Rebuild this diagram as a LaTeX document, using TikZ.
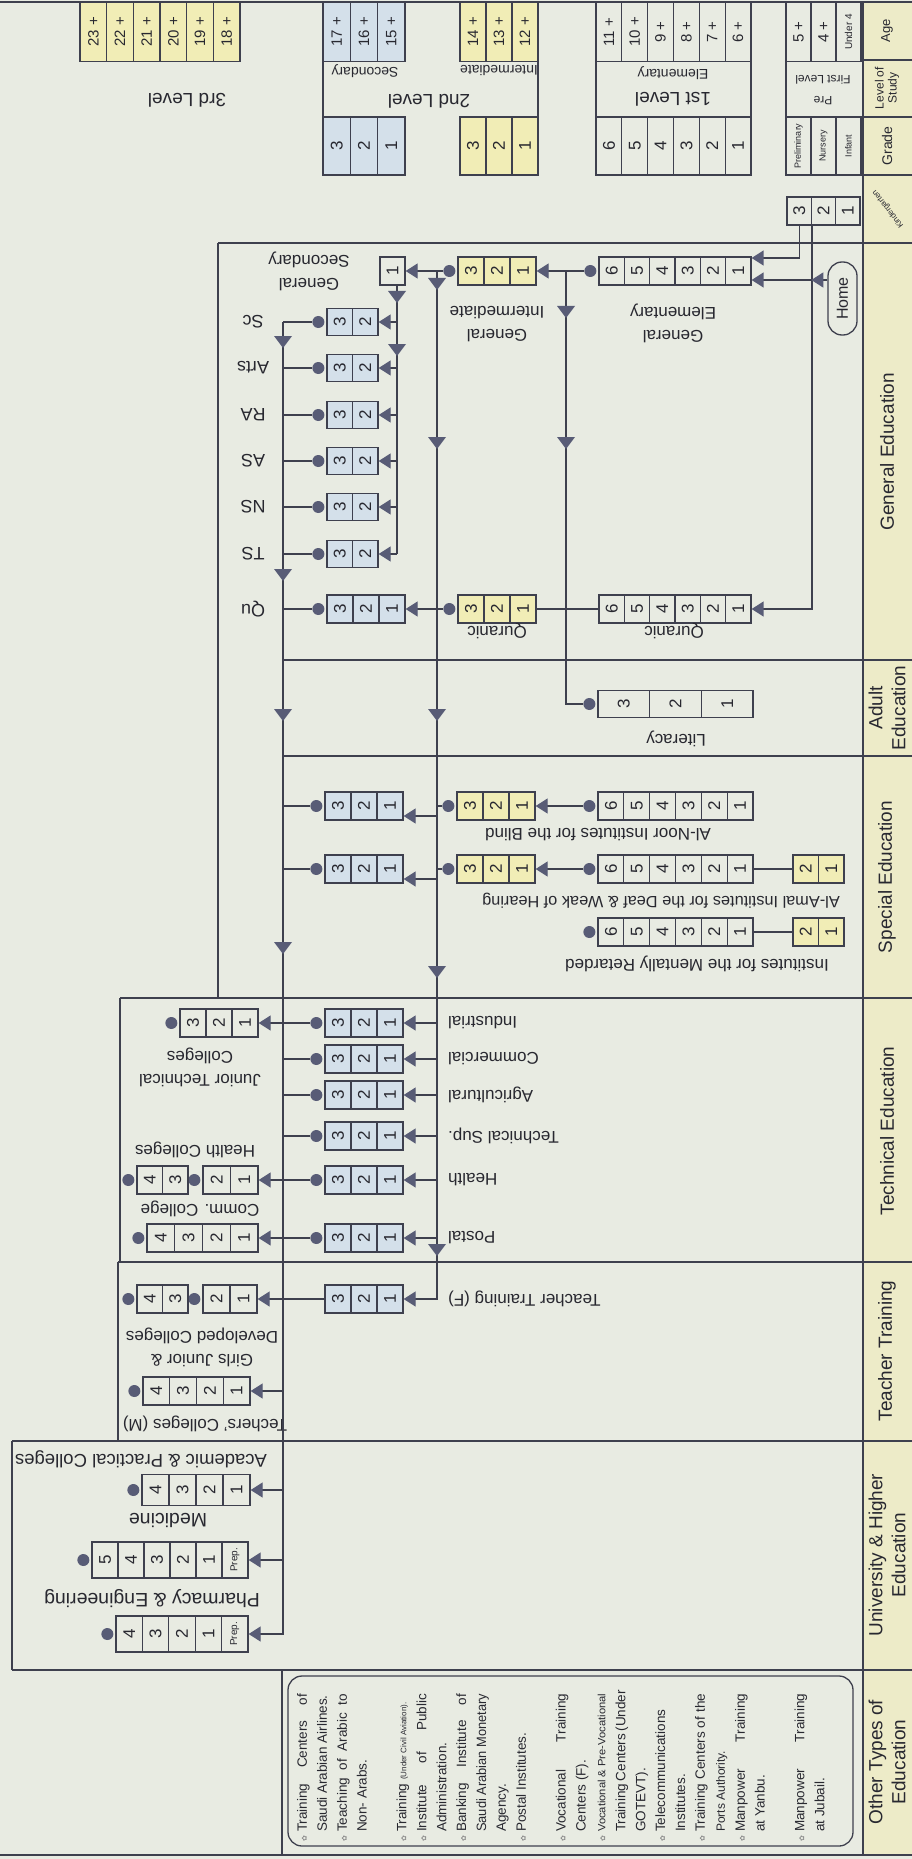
\documentclass[tikz,border=0pt]{standalone}
\usepackage{fontspec}
\setmainfont{Liberation Sans}
\newfontfamily\dejavu{DejaVu Sans}
\usepackage{graphicx}
\usetikzlibrary{arrows.meta,calc}
\definecolor{paper}{RGB}{232,235,226}
\definecolor{lc}{RGB}{62,64,78}
\definecolor{arrc}{RGB}{88,92,118}
\definecolor{ylw}{RGB}{241,237,182}
\definecolor{blu}{RGB}{212,224,234}
\definecolor{hdr}{RGB}{237,235,200}
\definecolor{txt}{RGB}{40,40,48}
\definecolor{bulc}{RGB}{140,140,140}
\newcommand{\fs}[2]{\fontsize{#1}{#2}\selectfont}
\newcommand{\bul}{\llap{\textcolor{bulc}{\dejavu\fs{7}{7}✿}\hspace{4pt}}}
\newcommand{\jl}[1]{\makebox[138pt][s]{#1}}
\newcommand{\sq}[1]{\resizebox{138pt}{\height}{#1}}
\tikzset{
 ln/.style={draw=lc, line width=1.3pt},
 reg/.style={draw=lc, line width=1.6pt},
 arr/.style={-{Triangle[length=12pt,width=15pt,color=arrc]}},
 cell/.style={draw=lc, line width=1.3pt, inner sep=0pt, text=txt, font=\fs{17}{17}},
 dot/.style={circle, fill=arrc, inner sep=0pt, minimum size=12pt},
 lab/.style={rotate=180, text=txt, font=\fs{17}{23}, align=center, inner sep=0pt},
 hlab/.style={rotate=90, text=txt, font=\fs{19}{23}, align=center, inner sep=0pt},
 tri/.pic={\fill[arrc] (-9,-6) -- (9,-6) -- (0,6) -- cycle;},
}
\newcommand{\crow}[7]{%
 \foreach \lbl [count=\i] in {#7}{%
  \node[cell,#6,minimum width=#4pt,minimum height=#5pt] (#1-\i) at ({#2+(\i-0.5)*#4},#3) {\rotatebox{90}{\lbl}};
 }}
\begin{document}
\begin{tikzpicture}[x=1pt,y=-1pt]
\fill[paper] (0,0) rectangle (912,1859);
\useasboundingbox (0,0) rectangle (912,1859);
% header column
\fill[hdr] (863,3) rectangle (912,1855);
\draw[reg] (0,2) -- (912,2);
\draw[reg] (0,1855) -- (912,1855);
\draw[ln,line width=1.8pt] (863,2) -- (863,1855);
\foreach \yy in {60,117,175} {\draw[ln] (863,\yy) -- (912,\yy);}
% regions
\draw[reg] (218,243) -- (912,243);
\draw[reg] (218,243) -- (218,998);
\draw[reg] (283,660) -- (912,660);
\draw[reg] (283,756) -- (912,756);
\draw[reg] (120,998) -- (912,998);
\draw[reg] (120,998) -- (120,1262);
\draw[reg] (118,1262) -- (912,1262);
\draw[reg] (118,1262) -- (118,1441);
\draw[reg] (12,1441) -- (912,1441);
\draw[reg] (12,1441) -- (12,1670);
\draw[reg] (12,1670) -- (912,1670);
\draw[reg] (282,1670) -- (282,1855);
% header labels
\node[hlab,font=\fs{13}{14}] (hAge) at (887,31) {Age};
\node[hlab,font=\fs{12}{13}] (hLev) at (887,88) {Level of\\Study};
\node[hlab,font=\fs{14}{15}] (hGrade) at (887,146) {Grade};
\node[rotate=128,font=\fs{8}{9},text=txt,inner sep=0pt] (hKg) at (888,209) {Kindergarten};
\node[hlab] (hGen) at (887,452) {General Education};
\node[hlab] (hAdult) at (887,708) {Adult\\Education};
\node[hlab] (hSpec) at (887,877) {Special Education};
\node[hlab] (hTech) at (887,1131) {Technical Education};
\node[hlab] (hTT) at (887,1351) {Teacher Training};
\node[hlab] (hUni) at (887,1555) {University \& Higher\\Education};
\node[hlab] (hOther) at (887,1762) {Other Types of\\Education};
% level table
\crow{a3}{80}{32}{26.67}{59}{fill=ylw,font=\fs{15}{15}}{23 +,22 +,21 +,20 +,19 +,18 +}
\node[lab,font=\fs{19}{22}] (l3) at (187,100) {3rd Level};
\draw[ln] (323,3) -- (323,175); \draw[ln] (538,3) -- (538,175);
\crow{a2s}{323}{32}{27.33}{59}{fill=blu,font=\fs{15}{15}}{17 +,16 +,15 +}
\crow{g2s}{323}{146}{27.33}{58}{fill=blu}{3,2,1}
\crow{a2i}{460}{32}{26}{59}{fill=ylw,font=\fs{15}{15}}{14 +,13 +,12 +}
\crow{g2i}{460}{146}{26}{58}{fill=ylw}{3,2,1}
\node[lab,font=\fs{14}{16}] (lsec) at (365,71) {Secondary};
\node[lab,font=\fs{14}{16}] (lint) at (499,71) {Intermediate};
\node[lab,font=\fs{19}{22}] (l2) at (429,101) {2nd Level};
\draw[ln] (596,3) -- (596,175); \draw[ln] (751,3) -- (751,175);
\crow{a1}{596}{32}{25.83}{59}{font=\fs{15}{15}}{11 +,10 +,9 +,8 +,7 +,6 +}
\crow{g1}{596}{146}{25.83}{58}{}{6,5,4,3,2,1}
\node[lab,font=\fs{14}{16}] (lelem) at (673,73) {Elementary};
\node[lab,font=\fs{19}{22}] (l1) at (673,99) {1st Level};
\draw[ln] (786,3) -- (786,175);
\crow{a0}{786}{32}{25}{59}{font=\fs{15}{15}}{5 +,4 +,{\fs{10}{10}Under 4}}
\crow{g0}{786}{146}{25}{58}{font=\fs{9}{9}}{Preliminary,Nursery,Infant}
\node[lab,font=\fs{12}{21}] (lpre) at (823,90) {Pre\\First Level};
% kindergarten, home
\crow{kg}{787}{211}{24.33}{28}{}{3,2,1}
\node[draw=lc,line width=1.3pt,rounded corners=14pt,rotate=90,minimum width=73pt,minimum height=29pt,inner sep=0pt,font=\fs{16}{16},text=txt] (home) at (842.5,298.5) {Home};
% general education
\crow{ge}{599}{271}{25.33}{28}{}{6,5,4,3,2,1}
\node[dot] (ged) at ($(ge-1.west)+(-8,0)$) {};
\crow{gi}{458}{271}{26}{28}{fill=ylw}{3,2,1}
\node[dot] (gid) at ($(gi-1.west)+(-8,0)$) {};
\node[cell,minimum width=25pt,minimum height=28pt] (gs) at (392.5,271) {\rotatebox{90}{1}};
\node[lab] (lge) at (673,323) {General\\Elementary};
\node[lab] (lgi) at (497,324) {General\\Intermediate};
\node[lab] (lgs) at (309,271) {General\\Secondary};
\foreach \nm/\yy/\tx in {sSc/322/Sc,sAr/368/Arts,sRA/415/RA,sAS/461/AS,sNS/507/NS,sTS/554/TS}{
 \crow{\nm}{327}{\yy}{25.5}{27}{fill=blu}{3,2}
 \node[dot] (\nm d) at ($(\nm-1.west)+(-8,0)$) {};
 \node[lab,font=\fs{18}{20}] (\nm l) at (253,\yy) {\tx};
}
\crow{qs}{327}{609}{26}{28}{fill=blu}{3,2,1}
\node[dot] (qsd) at ($(qs-1.west)+(-8,0)$) {};
\node[lab,font=\fs{18}{20}] (qsl) at (253,609) {Qu};
\crow{qi}{458}{609}{26}{28}{fill=ylw}{3,2,1}
\node[dot] (qid) at ($(qi-1.west)+(-8,0)$) {};
\crow{qe}{599}{609}{25.33}{28}{}{6,5,4,3,2,1}
\node[lab] (lqi) at (497,631) {Quranic};
\node[lab] (lqe) at (674,631) {Quranic};
% adult
\crow{lit}{598}{704}{51.67}{27}{}{3,2,1}
\node[dot] (litd) at ($(lit-1.west)+(-8,0)$) {};
\node[lab] (llit) at (676,739) {Literacy};
% special
\crow{ne}{598}{806}{25.83}{28}{}{6,5,4,3,2,1}
\node[dot] (ned) at ($(ne-1.west)+(-8,0)$) {};
\crow{ni}{457}{806}{26}{28}{fill=ylw}{3,2,1}
\node[dot] (nid) at ($(ni-1.west)+(-8,0)$) {};
\crow{ns}{325}{806}{26}{28}{fill=blu}{3,2,1}
\node[dot] (nsd) at ($(ns-1.west)+(-8,0)$) {};
\node[lab] (lnoor) at (598,835) {Al-Noor Institutes for the Blind};
\crow{ame}{598}{869}{25.83}{28}{}{6,5,4,3,2,1}
\node[dot] (amed) at ($(ame-1.west)+(-8,0)$) {};
\crow{amp}{793}{869}{25.5}{28}{fill=ylw}{2,1}
\crow{ami}{457}{869}{26}{28}{fill=ylw}{3,2,1}
\node[dot] (amid) at ($(ami-1.west)+(-8,0)$) {};
\crow{ams}{325}{869}{26}{28}{fill=blu}{3,2,1}
\node[dot] (amsd) at ($(ams-1.west)+(-8,0)$) {};
\node[lab,font=\fs{16.3}{20}] (lamal) at (661,901) {Al-Amal Institutes for the Deaf \& Weak of Hearing};
\crow{me}{598}{932}{25.83}{28}{}{6,5,4,3,2,1}
\node[dot] (med) at ($(me-1.west)+(-8,0)$) {};
\crow{mp}{793}{932}{25.5}{28}{fill=ylw}{2,1}
\node[lab] (lmr) at (697,964) {Institutes for the Mentally Retarded};
% technical
\foreach \nm/\yy/\tx in {ind/1023/Industrial,com/1059/Commercial,agr/1095/Agricultural,tsu/1136/Technical Sup.,hea/1180/Health,pos/1238/Postal}{
 \crow{\nm}{325}{\yy}{26}{28}{fill=blu}{3,2,1}
 \node[dot] (\nm d) at ($(\nm-1.west)+(-8,0)$) {};
 \node[lab,anchor=east] (\nm l) at (448,\yy) {\tx};
}
\crow{jtc}{180}{1023}{26}{28}{}{3,2,1}
\node[dot] (jtcd) at ($(jtc-1.west)+(-8,0)$) {};
\crow{hc}{203}{1180}{27.5}{28}{}{2,1}
\node[dot] (hcd) at ($(hc-1.west)+(-8,0)$) {};
\crow{hcb}{137}{1180}{25.5}{28}{}{4,3}
\node[dot] (hcbd) at ($(hcb-1.west)+(-8,0)$) {};
\crow{cc}{147}{1238}{27.75}{28}{}{4,3,2,1}
\node[dot] (ccd) at ($(cc-1.west)+(-8,0)$) {};
\node[lab] (ljtc) at (200,1067) {Junior Technical\\Colleges};
\node[lab] (lhc) at (195,1150) {Health Colleges};
\node[lab] (lcc) at (200,1209) {Comm. College};
% teacher training
\crow{ttf}{325}{1299}{26}{28}{fill=blu}{3,2,1}
\node[lab,anchor=east] (lttf) at (448,1299) {Teacher Training (F)};
\crow{gj}{203}{1299}{27}{28}{}{2,1}
\node[dot] (gjd) at ($(gj-1.west)+(-8,0)$) {};
\crow{gk}{137}{1299}{25.5}{28}{}{4,3}
\node[dot] (gkd) at ($(gk-1.west)+(-8,0)$) {};
\node[lab] (lgj) at (202,1347) {Girls Junior \&\\Developed Colleges};
\crow{tm}{143}{1391}{26.75}{28}{}{4,3,2,1}
\node[dot] (tmd) at ($(tm-1.west)+(-8,0)$) {};
\node[lab] (ltm) at (205,1424) {Techers' Colleges (M)};
% university
\crow{md}{142}{1490}{27}{31}{}{4,3,2,1}
\node[dot] (mdd) at ($(md-1.west)+(-8,0)$) {};
\crow{pb}{92}{1560}{26}{36}{}{5,4,3,2,1,{\fs{10}{10}Prep.}}
\node[dot] (pbd) at ($(pb-1.west)+(-8,0)$) {};
\crow{pa}{116}{1634}{26.4}{36}{}{4,3,2,1,{\fs{10}{10}Prep.}}
\node[dot] (pad) at ($(pa-1.west)+(-8,0)$) {};
\node[lab,font=\fs{18.5}{22}] (lacad) at (141,1459) {Academic \& Practical Colleges};
\node[lab,font=\fs{19.5}{22}] (lmed) at (168,1520) {Medicine};
\node[lab,font=\fs{19.5}{22}] (lpha) at (152,1599) {Pharmacy \& Engineering};
% other types
\draw[ln,rounded corners=14pt] (288,1676) rectangle (853,1846);
\node[rotate=90,anchor=north west,inner sep=0pt,align=left,font=\fs{13.5}{19.9},text=txt] (oth) at (297,1832) {%
\bul\jl{Training Centers of}\\
Saudi Arabian Airlines.\\
\bul\jl{Teaching of Arabic to}\\
Non- Arabs.\\
\mbox{}\\
\bul Training {\fs{8}{8}(Under Civil Aviation).}\\
\bul\jl{Institute of Public}\\
Administration.\\
\bul\jl{Banking Institute of}\\
\sq{Saudi Arabian Monetary}\\
Agency.\\
\bul Postal Institutes.\\
\mbox{}\\
\bul\jl{Vocational Training}\\
Centers (F).\\
\bul\sq{\fs{10.5}{12}Vocational \& Pre-Vocational}\\
\jl{Training Centers (Under}\\
GOTEVT).\\
\bul Telecommunications\\
Institutes.\\
\bul\jl{Training Centers of the}\\
{\fs{12}{19.9}Ports Authority.}\\
\bul\jl{Manpower Training}\\
at Yanbu.\\
\mbox{}\\
\bul\jl{Manpower Training}\\
at Jubail.};
% ---------- connectors ----------
\draw[ln,arr] (kg-1.south) |- ($(ge-6.east)+(0,-13)$);
\coordinate (hj) at (811.3,280);
\draw[ln,arr] (kg-1.south east) |- (qe-6.east);
\draw[ln,arr] (home.north |- hj) -- (hj);
\draw[ln,arr] (hj) -- (hj -| ge-6.east);
\draw[ln,arr] (ged) -- (gi-3.east);
\coordinate (j566) at (566,271);
\draw[ln] (j566) |- (litd);
\pic at (566,312) {tri}; \pic at (566,443) {tri};
\draw[ln,arr] (gid) -- (gs.east);
\coordinate (j437) at (437,271);
\draw[ln,arr] (j437) |- (ttf-3.east);
\foreach \yy in {284,443,715,972,1250} {\pic at (437,\yy) {tri};}
\draw[ln,arr] (j437 |- qs-3.east) -- (qs-3.east);
\draw[ln] (qid) -- (j437 |- qid);
\draw[ln] (qe-1.west) -- (qi-3.east);
% general secondary to specialisations
\coordinate (v397) at (397,285);
\draw[ln] (v397) -- (v397 |- sTS-2.east);
\foreach \nm in {sSc,sAr,sRA,sAS,sNS,sTS}{\draw[ln,arr] (v397 |- \nm-2.east) -- (\nm-2.east);}
\pic at (397,297) {tri}; \pic at (397,350) {tri};
% secondary outputs
\coordinate (v283) at (283,322);
\draw[ln] (sScd) -- (v283);
\draw[ln,arr] (v283) |- (pa-5.east);
\foreach \yy in {342,575,715,948} {\pic at (283,\yy) {tri};}
\foreach \nm in {sAr,sRA,sAS,sNS,sTS,qs,ns,ams,ind,com,agr,tsu,hea,pos}{\draw[ln] (\nm d) -- (v283 |- \nm d);}
% special education flows
\draw[ln,arr] (ned) -- (ni-3.east);
\draw[ln] (nid) -- (j437 |- nid);
\draw[ln,arr] ($(j437 |- ns-3.east)+(0,10)$) -- ($(ns-3.east)+(0,10)$);
\draw[ln] (ame-6.east) -- (amp-1.west);
\draw[ln,arr] (amed) -- (ami-3.east);
\draw[ln] (amid) -- (j437 |- amid);
\draw[ln,arr] ($(j437 |- ams-3.east)+(0,10)$) -- ($(ams-3.east)+(0,10)$);
\draw[ln] (me-6.east) -- (mp-1.west);
% technical flows
\foreach \nm in {ind,com,agr,tsu,hea,pos}{\draw[ln,arr] (j437 |- \nm-3.east) -- (\nm-3.east);}
\draw[ln,arr] (v283 |- jtc-3.east) -- (jtc-3.east);
\draw[ln,arr] (v283 |- hc-2.east) -- (hc-2.east);
\draw[ln,arr] (v283 |- cc-4.east) -- (cc-4.east);
% teacher / university flows
\draw[ln,arr] (ttf-1.west) -- (gj-2.east);
\draw[ln,arr] (v283 |- tm-4.east) -- (tm-4.east);
\draw[ln,arr] (v283 |- md-4.east) -- (md-4.east);
\draw[ln,arr] (v283 |- pb-6.east) -- (pb-6.east);
\end{tikzpicture}
\end{document}
